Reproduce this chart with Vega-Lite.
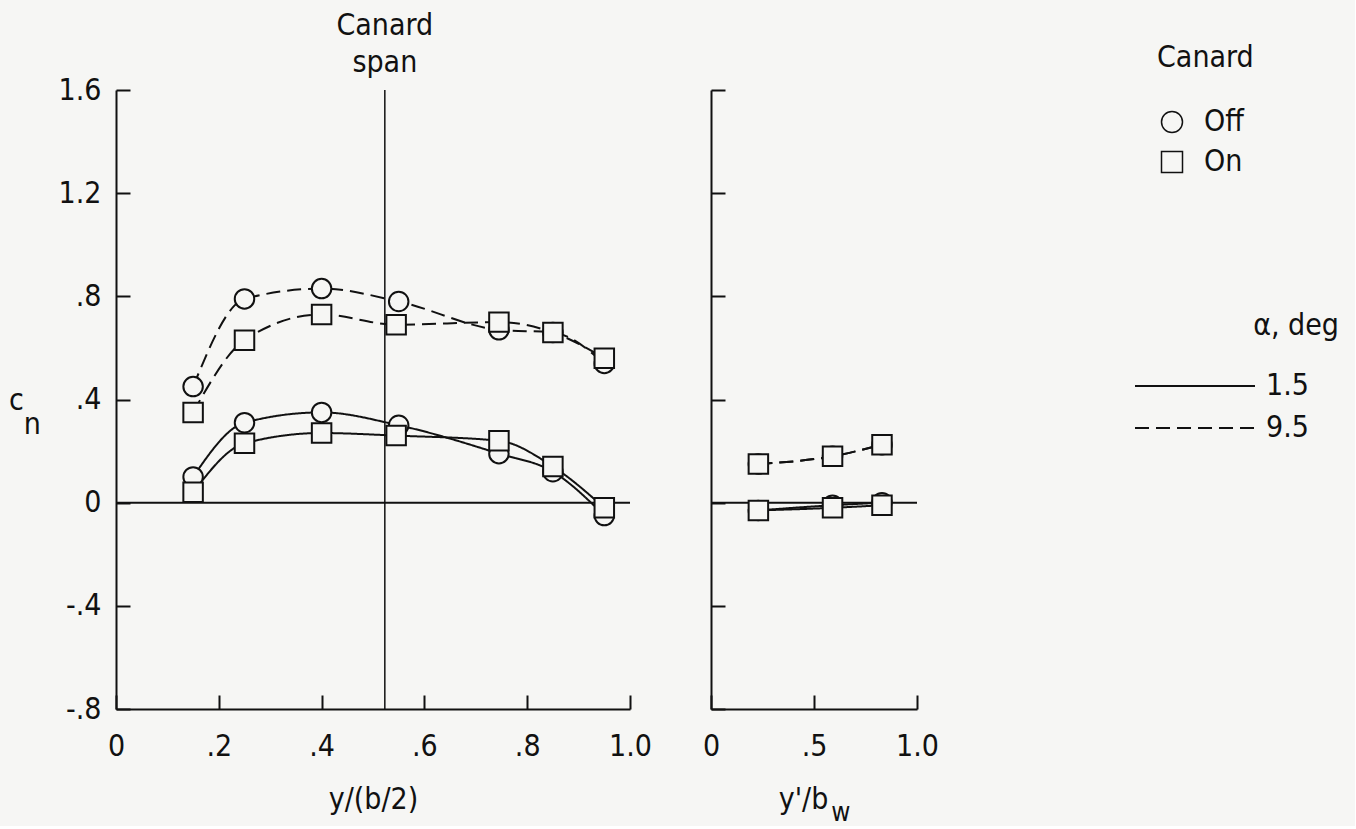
{
  "$schema": "https://vega.github.io/schema/vega-lite/v6.json",
  "background": "#f6f6f4",
  "padding": {"left": 8, "top": 11, "right": 16, "bottom": 0},
  "datasets": {
    "pts": [
      {"panel": "L", "x": 0.15, "cn": 0.45, "canard": "Off", "alpha": "9.5"},
      {"panel": "L", "x": 0.25, "cn": 0.79, "canard": "Off", "alpha": "9.5"},
      {"panel": "L", "x": 0.40, "cn": 0.83, "canard": "Off", "alpha": "9.5"},
      {"panel": "L", "x": 0.55, "cn": 0.78, "canard": "Off", "alpha": "9.5"},
      {"panel": "L", "x": 0.745, "cn": 0.67, "canard": "Off", "alpha": "9.5"},
      {"panel": "L", "x": 0.85, "cn": 0.66, "canard": "Off", "alpha": "9.5"},
      {"panel": "L", "x": 0.95, "cn": 0.54, "canard": "Off", "alpha": "9.5"},
      {"panel": "L", "x": 0.15, "cn": 0.35, "canard": "On", "alpha": "9.5"},
      {"panel": "L", "x": 0.25, "cn": 0.63, "canard": "On", "alpha": "9.5"},
      {"panel": "L", "x": 0.40, "cn": 0.73, "canard": "On", "alpha": "9.5"},
      {"panel": "L", "x": 0.545, "cn": 0.69, "canard": "On", "alpha": "9.5"},
      {"panel": "L", "x": 0.745, "cn": 0.70, "canard": "On", "alpha": "9.5"},
      {"panel": "L", "x": 0.85, "cn": 0.66, "canard": "On", "alpha": "9.5"},
      {"panel": "L", "x": 0.95, "cn": 0.56, "canard": "On", "alpha": "9.5"},
      {"panel": "L", "x": 0.15, "cn": 0.10, "canard": "Off", "alpha": "1.5"},
      {"panel": "L", "x": 0.25, "cn": 0.31, "canard": "Off", "alpha": "1.5"},
      {"panel": "L", "x": 0.40, "cn": 0.35, "canard": "Off", "alpha": "1.5"},
      {"panel": "L", "x": 0.55, "cn": 0.30, "canard": "Off", "alpha": "1.5"},
      {"panel": "L", "x": 0.745, "cn": 0.19, "canard": "Off", "alpha": "1.5"},
      {"panel": "L", "x": 0.85, "cn": 0.12, "canard": "Off", "alpha": "1.5"},
      {"panel": "L", "x": 0.95, "cn": -0.05, "canard": "Off", "alpha": "1.5"},
      {"panel": "L", "x": 0.15, "cn": 0.04, "canard": "On", "alpha": "1.5"},
      {"panel": "L", "x": 0.25, "cn": 0.23, "canard": "On", "alpha": "1.5"},
      {"panel": "L", "x": 0.40, "cn": 0.27, "canard": "On", "alpha": "1.5"},
      {"panel": "L", "x": 0.545, "cn": 0.26, "canard": "On", "alpha": "1.5"},
      {"panel": "L", "x": 0.745, "cn": 0.24, "canard": "On", "alpha": "1.5"},
      {"panel": "L", "x": 0.85, "cn": 0.14, "canard": "On", "alpha": "1.5"},
      {"panel": "L", "x": 0.95, "cn": -0.02, "canard": "On", "alpha": "1.5"},
      {"panel": "R", "x": 0.23, "cn": 0.15, "canard": "Off", "alpha": "9.5"},
      {"panel": "R", "x": 0.59, "cn": 0.18, "canard": "Off", "alpha": "9.5"},
      {"panel": "R", "x": 0.83, "cn": 0.225, "canard": "Off", "alpha": "9.5"},
      {"panel": "R", "x": 0.23, "cn": 0.15, "canard": "On", "alpha": "9.5"},
      {"panel": "R", "x": 0.59, "cn": 0.18, "canard": "On", "alpha": "9.5"},
      {"panel": "R", "x": 0.83, "cn": 0.225, "canard": "On", "alpha": "9.5"},
      {"panel": "R", "x": 0.23, "cn": -0.03, "canard": "Off", "alpha": "1.5"},
      {"panel": "R", "x": 0.59, "cn": -0.01, "canard": "Off", "alpha": "1.5"},
      {"panel": "R", "x": 0.83, "cn": 0.0, "canard": "Off", "alpha": "1.5"},
      {"panel": "R", "x": 0.23, "cn": -0.03, "canard": "On", "alpha": "1.5"},
      {"panel": "R", "x": 0.59, "cn": -0.02, "canard": "On", "alpha": "1.5"},
      {"panel": "R", "x": 0.83, "cn": -0.01, "canard": "On", "alpha": "1.5"}
    ]
  },
  "spacing": 50,
  "hconcat": [
    {
      "width": 514,
      "height": 619,
      "layer": [
        {
          "data": {"values": [{}]},
          "mark": {"type": "rule", "color": "#111", "strokeWidth": 2},
          "encoding": {"y": {"datum": 0, "type": "quantitative", "scale": {"domain": [-0.8, 1.6]}}}
        },
        {
          "data": {"values": [{}]},
          "mark": {"type": "rule", "color": "#111", "strokeWidth": 1.5},
          "encoding": {"x": {"datum": 0.523, "type": "quantitative", "scale": {"domain": [0, 1]}}}
        },
        {
          "data": {"values": [{}]},
          "mark": {"type": "text", "text": ["Canard", "span"], "fontSize": 30, "baseline": "alphabetic", "align": "center", "lineHeight": 37, "dy": -55, "color": "#111"},
          "encoding": {
            "x": {"datum": 0.523, "type": "quantitative"},
            "y": {"datum": 1.6, "type": "quantitative"}
          }
        },
        {
          "data": {"values": [{}]},
          "mark": {"type": "text", "text": "n", "fontSize": 30, "baseline": "middle", "align": "center", "color": "#111"},
          "encoding": {
            "x": {"datum": -0.163, "type": "quantitative"},
            "y": {"datum": 0.303, "type": "quantitative"}
          }
        },
        {
          "data": {"name": "pts"},
          "transform": [{"filter": "datum.panel === 'L'"}],
          "mark": {"type": "line", "color": "#111", "strokeWidth": 2, "interpolate": "monotone"},
          "encoding": {
            "x": {"field": "x", "type": "quantitative", "scale": {"domain": [0, 1]},
              "axis": {"title": "y/(b/2)", "values": [0, 0.2, 0.4, 0.6, 0.8, 1.0], "labelExpr": "datum.value == 0 ? '0' : replace(format(datum.value, '.1f'), '0.', '.')", "labelPadding": 36, "titlePadding": 23}},
            "y": {"field": "cn", "type": "quantitative", "scale": {"domain": [-0.8, 1.6]},
              "axis": {"title": "c", "titleAngle": 0, "titleX": -100, "titleY": 310, "titleAlign": "center", "titleBaseline": "middle", "values": [-0.8, -0.4, 0, 0.4, 0.8, 1.2, 1.6], "labelPadding": 29, "labelExpr": "datum.value == 0 ? '0' : replace(replace(format(datum.value, '.1f'), '\u2212', '-'), '0.', '.')"}},
            "strokeDash": {"field": "alpha", "type": "nominal", "scale": {"domain": ["1.5", "9.5"], "range": [[1, 0], [14, 7]]},
              "legend": {"title": "α, deg", "orient": "none", "legendX": 1064, "legendY": 221, "titleAnchor": "end", "symbolType": "M-6,0H6", "symbolSize": 400, "symbolStrokeWidth": 2, "symbolStrokeColor": "#111", "rowPadding": 12, "labelOffset": 56, "titlePadding": 30,
                "encode": {"title": {"update": {"dx": {"value": 30}}}}}},
            "detail": {"field": "canard"}
          }
        },
        {
          "data": {"name": "pts"},
          "transform": [{"filter": "datum.panel === 'L'"}],
          "mark": {"type": "point", "filled": true, "fill": "#f6f6f4", "stroke": "#111", "strokeWidth": 2, "size": 380, "opacity": 1},
          "encoding": {
            "x": {"field": "x", "type": "quantitative"},
            "y": {"field": "cn", "type": "quantitative"},
            "shape": {"field": "canard", "type": "nominal", "scale": {"domain": ["Off", "On"], "range": ["circle", "square"]},
              "legend": {"title": "Canard", "orient": "none", "legendX": 1041, "legendY": -47, "titleAnchor": "start", "symbolSize": 441, "rowPadding": 10, "labelOffset": 17, "titlePadding": 34,
                "encode": {"symbols": {"update": {"stroke": {"value": "#111"}, "fill": {"value": "#f6f6f4"}, "strokeWidth": {"value": 2}, "opacity": {"value": 1}}}}}}
          }
        }
      ]
    },
    {
      "width": 206,
      "height": 619,
      "layer": [
        {
          "data": {"values": [{}]},
          "mark": {"type": "rule", "color": "#111", "strokeWidth": 2},
          "encoding": {"y": {"datum": 0, "type": "quantitative", "scale": {"domain": [-0.8, 1.6]}}}
        },
        {
          "data": {"values": [{}]},
          "mark": {"type": "text", "text": "w", "fontSize": 26, "baseline": "alphabetic", "align": "center", "dy": 112, "color": "#111"},
          "encoding": {
            "x": {"datum": 0.63, "type": "quantitative", "scale": {"domain": [0, 1]}},
            "y": {"datum": -0.8, "type": "quantitative"}
          }
        },
        {
          "data": {"name": "pts"},
          "transform": [{"filter": "datum.panel === 'R'"}],
          "mark": {"type": "line", "color": "#111", "strokeWidth": 2, "interpolate": "monotone"},
          "encoding": {
            "x": {"field": "x", "type": "quantitative", "scale": {"domain": [0, 1]},
              "axis": {"title": "y'/b", "values": [0, 0.5, 1.0], "labelExpr": "datum.value == 0 ? '0' : replace(format(datum.value, '.1f'), '0.', '.')", "labelPadding": 36, "titlePadding": 23, "titleX": 92}},
            "y": {"field": "cn", "type": "quantitative", "scale": {"domain": [-0.8, 1.6]},
              "axis": {"title": null, "labels": false, "values": [-0.8, -0.4, 0, 0.4, 0.8, 1.2, 1.6]}},
            "strokeDash": {"field": "alpha", "type": "nominal", "scale": {"domain": ["1.5", "9.5"], "range": [[1, 0], [14, 7]]}},
            "detail": {"field": "canard"}
          }
        },
        {
          "data": {"name": "pts"},
          "transform": [{"filter": "datum.panel === 'R'"}],
          "mark": {"type": "point", "filled": true, "fill": "#f6f6f4", "stroke": "#111", "strokeWidth": 2, "size": 380, "opacity": 1},
          "encoding": {
            "x": {"field": "x", "type": "quantitative"},
            "y": {"field": "cn", "type": "quantitative"},
            "shape": {"field": "canard", "type": "nominal", "scale": {"domain": ["Off", "On"], "range": ["circle", "square"]}}
          }
        }
      ]
    }
  ],
  "config": {
    "font": "DejaVu Sans Condensed, Liberation Sans Narrow, DejaVu Sans",
    "view": {"stroke": null},
    "text": {"font": "DejaVu Sans Condensed, Liberation Sans Narrow, DejaVu Sans"},
    "axis": {
      "grid": false,
      "domainColor": "#111", "domainWidth": 2,
      "tickColor": "#111", "tickWidth": 2, "tickSize": -14,
      "labelFont": "DejaVu Sans Condensed, Liberation Sans Narrow, DejaVu Sans", "labelFontSize": 30, "labelColor": "#111",
      "labelFlush": false, "labelOverlap": false,
      "titleFont": "DejaVu Sans Condensed, Liberation Sans Narrow, DejaVu Sans", "titleFontSize": 30, "titleFontWeight": "normal", "titleColor": "#111"
    },
    "legend": {
      "titleFont": "DejaVu Sans Condensed, Liberation Sans Narrow, DejaVu Sans", "titleFontSize": 30, "titleFontWeight": "normal", "titleColor": "#111",
      "labelFont": "DejaVu Sans Condensed, Liberation Sans Narrow, DejaVu Sans", "labelFontSize": 30, "labelColor": "#111"
    }
  }
}
